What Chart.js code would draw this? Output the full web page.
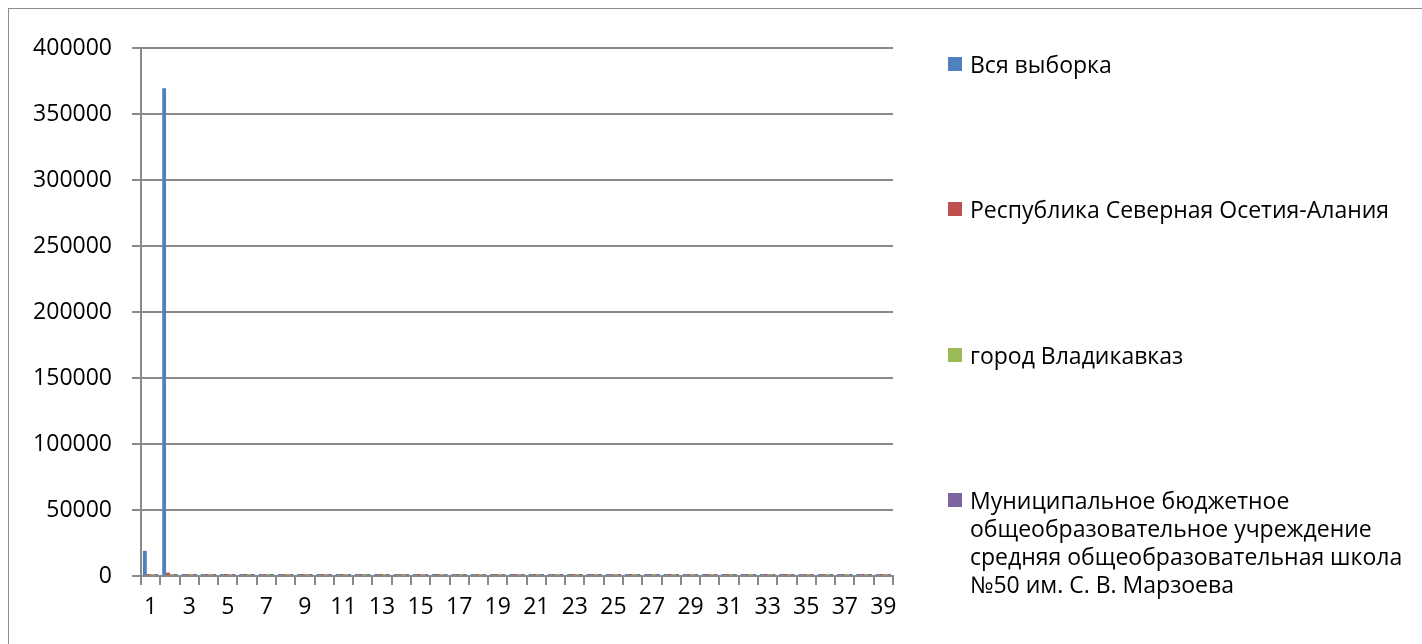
<!DOCTYPE html>
<html>
<head>
<meta charset="utf-8">
<script src="https://cdn.jsdelivr.net/npm/chart.js@4.4.0/dist/chart.umd.min.js"></script>
<style>
    html, body { margin: 0; padding: 0; background: #fff; overflow: hidden; }
    #wrap { position: relative; width: 1422px; height: 644px; }
    #frame { position: absolute; left: 8px; top: 8px; width: 1420px; height: 640px; border: 1px solid #8c8c8c; box-sizing: border-box; }
    #chart { position: absolute; left: 0; top: 0; }
    .leg { position: absolute; left: 948px; font-family: 'Open Sans', sans-serif; font-size: 23px; color: #000; line-height: 28px; }
    .leg .sw { position: absolute; left: 0; top: 7px; width: 14px; height: 14px; }
    .leg .tx { position: absolute; left: 22px; top: 0; width: 448px; }
</style>
</head>
<body>
<div id="wrap">
    <div id="frame"></div>
    <canvas id="chart" width="1422" height="644"></canvas>
    <div id="legend"></div>
</div>
<script>
// Данные графика (1..39)
const categories = Array.from({ length: 39 }, (_, i) => String(i + 1));

const seriesNames = [
    'Вся выборка',
    'Республика Северная Осетия-Алания',
    'город Владикавказ',
    'Муниципальное бюджетное общеобразовательное учреждение средняя общеобразовательная школа №50 им. С. В. Марзоева'
];
const seriesColors = ['#4f81bd', '#c0504d', '#9bbb59', '#8064a2'];

const allSample = [19000, 369500, 72, 65, 58, 81, 47, 63, 70, 55, 44, 68, 76, 52, 61, 39, 57, 66, 49, 71,
    54, 62, 45, 59, 67, 43, 53, 60, 48, 69, 56, 41, 64, 50, 58, 46, 62, 51, 57];
const republic = [110, 2600, 70, 62, 55, 79, 45, 60, 68, 52, 42, 66, 73, 50, 59, 37, 55, 64, 47, 69,
    52, 60, 43, 57, 65, 41, 51, 58, 46, 67, 54, 39, 62, 48, 56, 44, 60, 49, 55];
const city = [45, 1100, 71, 63, 56, 80, 46, 61, 69, 53, 43, 67, 74, 51, 60, 38, 56, 65, 48, 70,
    53, 61, 44, 58, 66, 42, 52, 59, 47, 68, 55, 40, 63, 49, 57, 45, 61, 50, 56];
const school = [1, 60, 74, 60, 52, 83, 40, 66, 72, 50, 38, 70, 78, 47, 63, 35, 59, 68, 44, 73,
    50, 64, 41, 61, 69, 38, 49, 62, 43, 71, 58, 36, 66, 46, 60, 42, 64, 47, 59];

const yTicks = [0, 50000, 100000, 150000, 200000, 250000, 300000, 350000, 400000];

// Положения элементов легенды (верх строки текста)
const legendTops = [50, 195, 341, 486];

const axisColor = '#8a8a8a';
const font = { family: "'Open Sans', sans-serif", size: 23 };

const ctx = document.getElementById('chart');
new Chart(ctx, {
    type: 'bar',
    data: {
        labels: categories,
        datasets: [allSample, republic, city, school].map((d, i) => ({
            label: seriesNames[i],
            data: d,
            backgroundColor: seriesColors[i],
            borderWidth: 0,
            minBarLength: 2,
            categoryPercentage: 0.8,
            barPercentage: 1.0
        }))
    },
    options: {
        responsive: false,
        animation: false,
        layout: { padding: { left: 0, top: 48, right: 529, bottom: 0 } },
        plugins: {
            legend: { display: false },
            tooltip: { enabled: false }
        },
        scales: {
            y: {
                min: 0,
                max: 400000,
                afterFit: s => { s.width = 141; },
                afterBuildTicks: s => { s.ticks = yTicks.map(v => ({ value: v })); },
                ticks: {
                    color: '#000',
                    font: font,
                    padding: 20,
                    callback: v => String(v)
                },
                grid: {
                    color: axisColor,
                    lineWidth: 2,
                    drawTicks: true,
                    tickLength: 9
                },
                border: { color: axisColor, width: 2 }
            },
            x: {
                afterFit: s => { s.height = 68; },
                ticks: {
                    color: '#000',
                    font: font,
                    autoSkip: false,
                    maxRotation: 0,
                    padding: 9,
                    callback: (v, i) => (i % 2 === 0 ? categories[i] : '')
                },
                grid: {
                    offset: true,
                    drawOnChartArea: false,
                    drawTicks: true,
                    tickLength: 9,
                    color: axisColor,
                    lineWidth: 2
                },
                border: { color: axisColor, width: 2 }
            }
        }
    }
});

// Легенда справа
const legend = document.getElementById('legend');
seriesNames.forEach((name, i) => {
    const item = document.createElement('div');
    item.className = 'leg';
    item.style.top = legendTops[i] + 'px';
    item.innerHTML = '<div class="sw" style="background:' + seriesColors[i] + '"></div>' +
        '<div class="tx">' + name + '</div>';
    legend.appendChild(item);
});
</script>
</body>
</html>
